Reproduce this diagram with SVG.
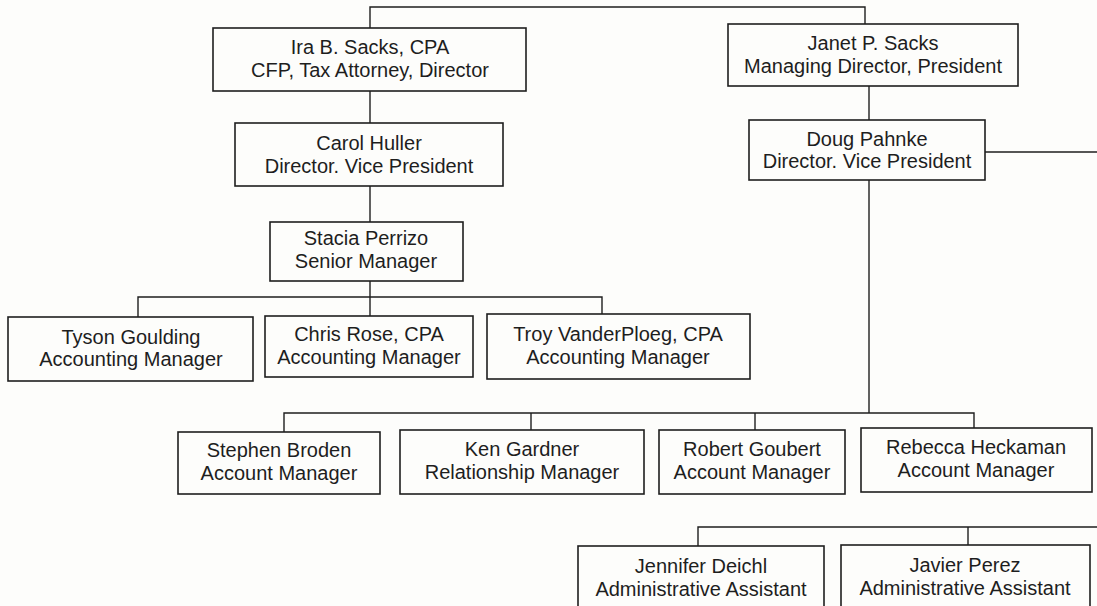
<svg xmlns="http://www.w3.org/2000/svg" width="1097" height="606" viewBox="0 0 1097 606">
<style>
.box{fill:#fdfdfb;stroke:#1e1e1e;stroke-width:1.6}
.ln{fill:none;stroke:#1e1e1e;stroke-width:1.4}
text{font-family:"Liberation Sans",Arial,sans-serif;font-size:20px;fill:#1e1e1e;text-anchor:middle}
</style>
<rect width="1097" height="606" fill="#fdfdfb"/>
<g id="connectors">
<polyline class="ln" points="370,28 370,7 865,7 865,24"/>
<line class="ln" x1="370" y1="91" x2="370" y2="123"/>
<line class="ln" x1="869" y1="86" x2="869" y2="120"/>
<line class="ln" x1="370" y1="186" x2="370" y2="222"/>
<line class="ln" x1="370" y1="281" x2="370" y2="297"/>
<polyline class="ln" points="138,317 138,297 602,297 602,314"/>
<line class="ln" x1="370" y1="297" x2="370" y2="316"/>
<line class="ln" x1="869" y1="180" x2="869" y2="413"/>
<polyline class="ln" points="284,432 284,413 974,413 974,428"/>
<line class="ln" x1="531" y1="413" x2="531" y2="430"/>
<line class="ln" x1="755" y1="413" x2="755" y2="430"/>
<line class="ln" x1="985" y1="152" x2="1097" y2="152"/>
<polyline class="ln" points="698,546 698,527 1097,527"/>
<line class="ln" x1="968" y1="527" x2="968" y2="545"/>
</g>
<g id="ira"><rect class="box" x="213" y="28" width="313" height="63"/><text x="370" y="54">Ira B. Sacks, CPA</text><text x="370" y="77">CFP, Tax Attorney, Director</text></g>
<g id="janet"><rect class="box" x="728" y="24" width="290" height="62"/><text x="873" y="50">Janet P. Sacks</text><text x="873" y="73">Managing Director, President</text></g>
<g id="carol"><rect class="box" x="235" y="123" width="268" height="63"/><text x="369" y="150">Carol Huller</text><text x="369" y="173">Director. Vice President</text></g>
<g id="doug"><rect class="box" x="749" y="120" width="236" height="60"/><text x="867" y="146">Doug Pahnke</text><text x="867" y="168">Director. Vice President</text></g>
<g id="stacia"><rect class="box" x="270" y="222" width="193" height="59"/><text x="366" y="245">Stacia Perrizo</text><text x="366" y="268">Senior Manager</text></g>
<g id="tyson"><rect class="box" x="8" y="317" width="245" height="64"/><text x="131" y="344">Tyson Goulding</text><text x="131" y="366">Accounting Manager</text></g>
<g id="chris"><rect class="box" x="265" y="316" width="208" height="61"/><text x="369" y="341">Chris Rose, CPA</text><text x="369" y="364">Accounting Manager</text></g>
<g id="troy"><rect class="box" x="487" y="314" width="263" height="65"/><text x="618" y="341">Troy VanderPloeg, CPA</text><text x="618" y="364">Accounting Manager</text></g>
<g id="stephen"><rect class="box" x="178" y="432" width="202" height="62"/><text x="279" y="457">Stephen Broden</text><text x="279" y="480">Account Manager</text></g>
<g id="ken"><rect class="box" x="400" y="430" width="244" height="64"/><text x="522" y="456">Ken Gardner</text><text x="522" y="479">Relationship Manager</text></g>
<g id="robert"><rect class="box" x="659" y="430" width="186" height="64"/><text x="752" y="456">Robert Goubert</text><text x="752" y="479">Account Manager</text></g>
<g id="rebecca"><rect class="box" x="861" y="428" width="231" height="64"/><text x="976" y="454">Rebecca Heckaman</text><text x="976" y="477">Account Manager</text></g>
<g id="jennifer"><rect class="box" x="578" y="546" width="246" height="66"/><text x="701" y="573">Jennifer Deichl</text><text x="701" y="596">Administrative Assistant</text></g>
<g id="javier"><rect class="box" x="841" y="545" width="249" height="67"/><text x="965" y="572">Javier Perez</text><text x="965" y="595">Administrative Assistant</text></g>
</svg>
